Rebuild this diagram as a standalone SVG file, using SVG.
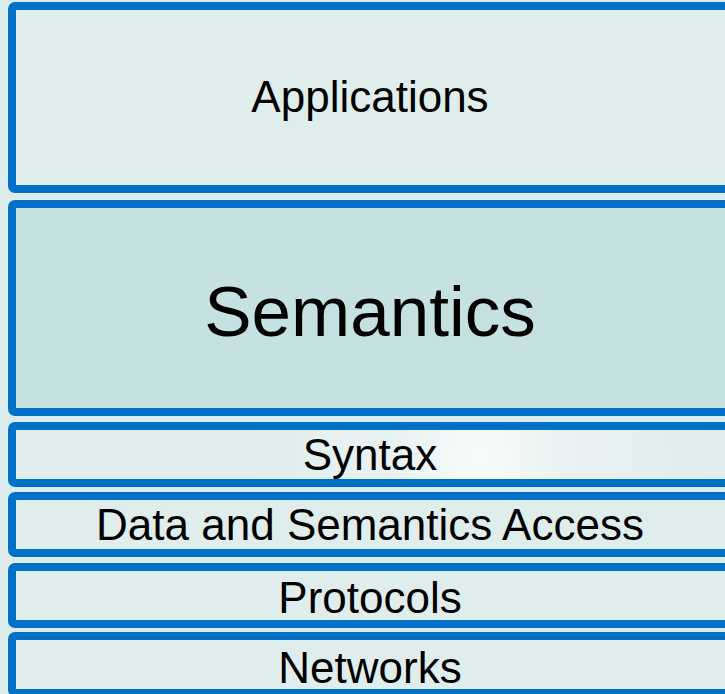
<svg xmlns="http://www.w3.org/2000/svg" width="725" height="694" viewBox="0 0 725 694">
  <defs>
    <radialGradient id="glow" cx="480" cy="455" r="240" gradientUnits="userSpaceOnUse">
      <stop offset="0" stop-color="#ffffff" stop-opacity="0.8"/>
      <stop offset="0.35" stop-color="#ffffff" stop-opacity="0.3"/>
      <stop offset="1" stop-color="#ffffff" stop-opacity="0"/>
    </radialGradient>
    <style>
      .layer { fill: #e0eded; stroke: #0071c6; stroke-width: 8; }
      .core { fill: #c6e1e1; }
      .label { font-family: "Liberation Sans", Arial, sans-serif; font-size: 44px; fill: #000000; text-anchor: middle; }
      .big { font-size: 71px; }
    </style>
  </defs>

  <!-- backdrop -->
  <rect x="0" y="0" width="725" height="694" fill="#dcecec"/>

  <!-- stack of layers, top to bottom -->
  <g id="applications">
    <rect class="layer" x="12" y="6" width="724" height="183" rx="3"/>
    <text class="label" x="370" y="112">Applications</text>
  </g>

  <g id="semantics">
    <rect class="layer core" x="12" y="204" width="724" height="208" rx="3"/>
    <text class="label big" x="370" y="336">Semantics</text>
  </g>

  <g id="syntax">
    <rect class="layer" x="12" y="426" width="724" height="57" rx="3"/>
    <rect x="16" y="430" width="709" height="49" fill="url(#glow)"/>
    <text class="label" x="370" y="470">Syntax</text>
  </g>

  <g id="data-access">
    <rect class="layer" x="12" y="496" width="724" height="57" rx="3"/>
    <text class="label" x="370" y="540">Data and Semantics Access</text>
  </g>

  <g id="protocols">
    <rect class="layer" x="12" y="567" width="724" height="57" rx="3"/>
    <text class="label" x="370" y="613">Protocols</text>
  </g>

  <g id="networks">
    <rect class="layer" x="12" y="636" width="724" height="57" rx="3"/>
    <text class="label" x="370" y="683">Networks</text>
  </g>

  <!-- the layers abut directly; no connectors are drawn -->
  <g id="connectors"/>
</svg>
